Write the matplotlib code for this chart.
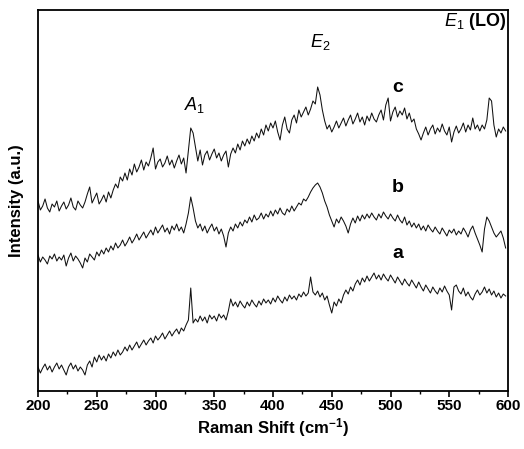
import numpy as np
import matplotlib
matplotlib.use("Agg")
import matplotlib.pyplot as plt
from matplotlib.ticker import MultipleLocator

plt.rcParams['font.family'] = ['Liberation Sans', 'DejaVu Sans']
plt.rcParams['mathtext.fontset'] = 'custom'
plt.rcParams['mathtext.rm'] = 'Liberation Sans'
plt.rcParams['mathtext.it'] = 'Liberation Sans:italic'
plt.rcParams['mathtext.bf'] = 'Liberation Sans:bold'

# Raman shift grid (cm^-1)
shift = np.arange(200, 600, 2)

# spectrum c (top)
spec_c = [190, 181, 185, 192, 183, 179, 187, 184, 190, 180,
          185, 189, 182, 186, 193, 184, 181, 190, 186, 183,
          189, 197, 204, 188, 193, 198, 187, 191, 196, 189,
          199, 193, 201, 207, 203, 214, 210, 218, 211, 222,
          216, 227, 219, 224, 231, 221, 229, 225, 233, 243,
          222, 229, 232, 224, 228, 235, 226, 231, 223, 230,
          236, 227, 233, 218, 240, 263, 258, 244, 230, 241,
          226, 236, 240, 231, 237, 242, 233, 238, 230, 236,
          240, 224, 237, 243, 238, 247, 241, 250, 245, 252,
          247, 255, 250, 258, 253, 262, 256, 266, 260, 268,
          263, 270, 259, 251, 266, 274, 262, 258, 271, 276,
          268, 281, 274, 279, 284, 276, 282, 290, 287, 304,
          296, 281, 270, 262, 266, 259, 264, 270, 263, 268,
          273, 265, 271, 276, 267, 272, 278, 269, 274, 266,
          275, 270, 278, 272, 269, 276, 281, 271, 286, 293,
          270, 279, 284, 274, 280, 276, 283, 272, 278, 269,
          272, 262, 257, 251, 258, 264, 256, 262, 266, 257,
          263, 259, 267, 260, 256, 264, 249, 259, 265, 258,
          262, 268, 259, 266, 261, 273, 262, 266, 260, 266,
          262, 271, 293, 290, 266, 254, 262, 258, 264, 260]

# spectrum b (middle)
spec_b = [136, 129, 134, 131, 127, 135, 132, 137, 130, 134,
          131, 136, 125, 133, 138, 130, 135, 132, 128, 123,
          133, 129, 137, 134, 131, 139, 135, 141, 137, 143,
          139, 145, 141, 148, 143, 146, 151, 145, 149, 154,
          148, 152, 157, 151, 155, 159, 153, 157, 161, 156,
          164, 158, 162, 166, 159, 163, 157, 165, 161, 167,
          160, 164, 158, 167, 178, 194, 183, 170, 163, 167,
          160, 165, 158, 163, 167, 160, 164, 157, 162, 155,
          144, 158, 164, 160, 167, 163, 169, 165, 171, 168,
          174, 169, 176, 171, 173, 178, 172, 177, 174, 180,
          175, 181, 177, 183, 178, 176, 182, 179, 185, 180,
          184, 188, 186, 192, 190, 194, 199, 203, 206, 208,
          204, 198, 190, 184, 176, 170, 164, 172, 168, 174,
          170, 165, 158, 167, 173, 168, 175, 170, 176, 172,
          177, 173, 178, 174, 171, 177, 173, 179, 175, 172,
          177, 173, 170, 176, 171, 168, 174, 166, 170, 164,
          168, 163, 167, 161, 165, 160, 166, 162, 159, 164,
          160, 157, 163, 159, 155, 161, 158, 162, 156, 160,
          157, 163, 159, 154, 161, 165, 158, 152, 146, 139,
          162, 174, 170, 164, 158, 154, 157, 160, 153, 143]

# spectrum a (bottom)
spec_a = [24, 18, 23, 27, 21, 25, 19, 24, 28, 22,
          26, 21, 16, 24, 28, 22, 26, 20, 24, 21,
          16, 26, 30, 24, 34, 29, 36, 31, 35, 30,
          37, 33, 39, 35, 41, 36, 39, 44, 40, 46,
          41, 45, 49, 43, 47, 51, 46, 50, 53, 48,
          55, 51, 54, 58, 52, 56, 60, 55, 59, 62,
          57, 63, 60, 66, 71, 103, 68, 72, 69, 75,
          70, 74, 68, 76, 72, 75, 70, 77, 73, 76,
          71, 80, 92, 85, 89, 84, 90, 86, 83, 89,
          85, 91, 87, 84, 90, 86, 92, 88, 91, 87,
          93, 89, 95, 91, 88, 94, 90, 96, 92, 95,
          91, 97, 94, 99, 95, 98, 114, 99, 96, 100,
          94, 98, 91, 95, 86, 78, 89, 85, 92, 88,
          96, 101, 97, 104, 100, 107, 111, 106, 113, 109,
          115, 110, 114, 118, 112, 116, 111, 117, 113, 110,
          116, 112, 108, 114, 110, 106, 112, 108, 105, 111,
          107, 103, 109, 104, 100, 106, 102, 98, 104, 100,
          97, 103, 99, 105, 100, 96, 81, 104, 106, 100,
          97, 103, 95, 99, 94, 91, 97, 101, 96, 99,
          104, 98, 102, 96, 100, 94, 98, 93, 97, 95]

x_ticks = [200, 250, 300, 350, 400, 450, 500, 550, 600]

fig = plt.figure(figsize=(5.24, 4.49), dpi=100)
ax = fig.add_axes([38 / 524, 58 / 449, 470 / 524, 381 / 449])

for s in (spec_a, spec_b, spec_c):
    ax.plot(shift, s, color='#111111', lw=0.75)

ax.set_xlim(200, 600)
ax.set_ylim(0, 381)
ax.set_xticks(x_ticks)
ax.xaxis.set_minor_locator(MultipleLocator(25))
ax.set_yticks([])
ax.tick_params(axis='x', which='major', direction='out', length=4, width=1.2,
               labelsize=11, pad=2)
ax.tick_params(axis='x', which='minor', direction='out', length=2.5, width=1.0)
for lab in ax.get_xticklabels():
    lab.set_fontweight('bold')
for sp in ax.spines.values():
    sp.set_linewidth(1.3)

ax.set_xlabel(r'Raman Shift (cm$^{\mathbf{-1}}$)', fontsize=12, fontweight='bold', labelpad=2)
ax.set_ylabel('Intensity (a.u.)', fontsize=12, fontweight='bold', labelpad=10)

ax.text(333, 286, r'$\mathit{A}_\mathit{1}$', fontsize=13, ha='center', va='center')
ax.text(440, 349, r'$\mathit{E}_\mathit{2}$', fontsize=13, ha='center', va='center')
ax.text(572, 369, r'$\mathit{E}_\mathit{1}\ \mathbf{(LO)}$', fontsize=13, ha='center', va='center')
ax.text(506, 303, 'c', fontsize=14, fontweight='bold', ha='center', va='center')
ax.text(506, 204, 'b', fontsize=14, fontweight='bold', ha='center', va='center')
ax.text(506, 138, 'a', fontsize=14, fontweight='bold', ha='center', va='center')

fig.savefig('out.png', dpi=100)
